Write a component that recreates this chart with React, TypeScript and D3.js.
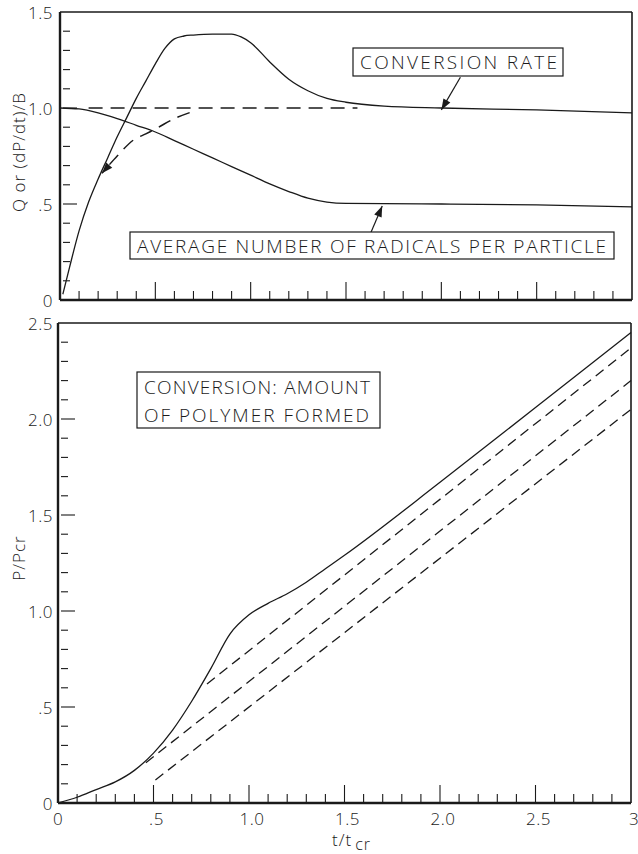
import React from "react";
import * as d3 from "d3";

// ---- Upper panel: rate and radical number vs reduced time ----
const rateT = [0.015, 0.05, 0.1, 0.15, 0.2, 0.25, 0.3, 0.35, 0.4, 0.45, 0.5, 0.55, 0.6, 0.65, 0.7, 0.8, 0.9, 0.95, 1.0, 1.1, 1.2, 1.3, 1.4, 1.5, 1.7, 2.0, 2.5, 3.0];
const rateQ = [0.03, 0.17, 0.36, 0.51, 0.63, 0.74, 0.85, 0.95, 1.05, 1.14, 1.23, 1.31, 1.36, 1.375, 1.38, 1.385, 1.385, 1.37, 1.34, 1.24, 1.15, 1.09, 1.05, 1.03, 1.01, 1.0, 0.99, 0.975];

const radT = [0, 0.1, 0.2, 0.3, 0.4, 0.5, 0.6, 0.7, 0.8, 0.9, 1.0, 1.1, 1.2, 1.3, 1.4, 1.5, 2.0, 2.5, 3.0];
const radQ = [1.0, 0.995, 0.975, 0.945, 0.91, 0.875, 0.83, 0.785, 0.74, 0.695, 0.65, 0.605, 0.565, 0.53, 0.51, 0.503, 0.5, 0.495, 0.485];

// dashed steady-state level and the dashed approach curve
const levelT = [0.15, 1.56];
const levelQ = [1.0, 1.0];
const approachT = [0.68, 0.6, 0.51, 0.45, 0.385, 0.3, 0.22];
const approachQ = [0.976, 0.945, 0.896, 0.865, 0.833, 0.75, 0.66];

// ---- Lower panel: amount of polymer formed ----
const polyT = [0, 0.1, 0.2, 0.3, 0.4, 0.5, 0.6, 0.7, 0.8, 0.9, 1.0, 1.1, 1.2, 1.3, 1.4, 1.5, 2.0, 2.5, 3.0];
const polyP = [0, 0.03, 0.07, 0.11, 0.17, 0.26, 0.38, 0.53, 0.7, 0.88, 0.98, 1.04, 1.09, 1.15, 1.22, 1.29, 1.67, 2.06, 2.45];

// asymptotic straight lines: [t0, P0, t1, P1]
const asymptotes = [
  [0.78, 0.62, 3.0, 2.37],
  [0.46, 0.21, 3.0, 2.2],
  [0.51, 0.12, 3.0, 2.05],
];

const topYTicks = [0, 0.5, 1.0, 1.5];
const topYLabels = ["0", ".5", "1.0", "1.5"];
const botYTicks = [0, 0.5, 1.0, 1.5, 2.0, 2.5];
const botYLabels = ["0", ".5", "1.0", "1.5", "2.0", "2.5"];
const xTicks = [0, 0.5, 1.0, 1.5, 2.0, 2.5, 3.0];
const xLabels = ["0", ".5", "1.0", "1.5", "2.0", "2.5", "3"];

const W = 638;
const H = 854;
const FONT = "'Open Sans', 'DejaVu Sans', sans-serif";
const INK = "#1a1a1a";

const xTop = d3.scaleLinear().domain([0, 3]).range([60, 632]);
const yTop = d3.scaleLinear().domain([0, 1.5]).range([300, 12]);
const xBot = d3.scaleLinear().domain([0, 3]).range([58, 631]);
const yBot = d3.scaleLinear().domain([0, 2.5]).range([803, 323]);

const tenths = (n: number) => d3.range(0, n + 1).map((i) => i / 10);

function arrowHead(tip: [number, number], from: [number, number], len = 11, half = 4) {
  const dx = tip[0] - from[0];
  const dy = tip[1] - from[1];
  const d = Math.hypot(dx, dy) || 1;
  const ux = dx / d, uy = dy / d;
  const bx = tip[0] - ux * len, by = tip[1] - uy * len;
  const px = -uy * half, py = ux * half;
  return `M${tip[0]},${tip[1]}L${bx + px},${by + py}L${bx - px},${by - py}Z`;
}

function Frame({ x, y, ticksY, yMax }: any) {
  const [x0, x1] = x.range();
  const [y0, y1] = y.range();
  return (
    <g stroke={INK} fill="none">
      <line x1={x0} x2={x1} y1={y1} y2={y1} strokeWidth={1.6} />
      <line x1={x1} x2={x1} y1={y1} y2={y0} strokeWidth={1.6} />
      <line x1={x0} x2={x0} y1={y1} y2={y0} strokeWidth={2.4} />
      <line x1={x0} x2={x1} y1={y0} y2={y0} strokeWidth={2.4} />
      {tenths(30).filter((v) => v > 0 && v < 3).map((v) => {
        const major = Math.abs(v * 2 - Math.round(v * 2)) < 1e-6;
        return <line key={"x" + v} x1={x(v)} x2={x(v)} y1={y0} y2={y0 - (major ? 18 : 9)} strokeWidth={1.1} />;
      })}
      {tenths(Math.round(yMax * 10)).filter((v) => v > 0 && v < yMax - 1e-6).map((v) => {
        const major = ticksY.some((t: number) => Math.abs(t - v) < 1e-6);
        return <line key={"y" + v} x1={x0 + 3} x2={x0 + (major ? 17 : 10)} y1={y(v)} y2={y(v)} strokeWidth={1.1} />;
      })}
    </g>
  );
}

function BoxLabel({ x, y, w, h, lines, lens }: any) {
  const lh = h / lines.length;
  return (
    <g>
      <rect x={x} y={y} width={w} height={h} fill="white" stroke={INK} strokeWidth={1.2} />
      {lines.map((s: string, i: number) => (
        <text
          key={s}
          x={x + 7}
          y={y + lh * i + lh / 2 + (lines.length > 1 ? 1 : 0)}
          dominantBaseline="central"
          fontFamily={FONT}
          fontWeight={300}
          fontSize={19}
          fill={INK}
          textLength={lens[i]}
          lengthAdjust="spacing"
        >
          {s}
        </text>
      ))}
    </g>
  );
}

export default function App() {
  const lineTop = d3.line<number>().curve(d3.curveMonotoneX);
  const rateD = lineTop(rateT.map((t, i) => [xTop(t), yTop(rateQ[i])]) as any);
  const radD = lineTop(radT.map((t, i) => [xTop(t), yTop(radQ[i])]) as any);
  const levelD = d3.line()(levelT.map((t, i) => [xTop(t), yTop(levelQ[i])]) as any);
  const approachPts = approachT.map((t, i) => [xTop(t), yTop(approachQ[i])] as [number, number]);
  const approachD = d3.line().curve(d3.curveCatmullRom)(approachPts);
  const polyD = d3.line<number>().curve(d3.curveMonotoneX)(polyT.map((t, i) => [xBot(t), yBot(polyP[i])]) as any);

  const n = approachPts.length;
  const appTip = approachPts[n - 1];
  const appFrom = approachPts[n - 2];

  // pointer arrows for the two upper labels
  const rateTip: [number, number] = [xTop(2.0), yTop(0.99)];
  const rateTail: [number, number] = [xTop(2.1), yTop(1.16)];
  const radTip: [number, number] = [xTop(1.69), yTop(0.49)];
  const radTail: [number, number] = [xTop(1.63), yTop(0.35)];

  const tick = { fontFamily: FONT, fontWeight: 300, fontSize: 17, fill: INK, letterSpacing: 0.5 } as any;

  return (
    <svg width={W} height={H} style={{ position: "absolute", left: 0, top: 0, background: "white" }}>
      <rect width={W} height={H} fill="white" />

      {/* upper panel */}
      <Frame x={xTop} y={yTop} ticksY={topYTicks} yMax={1.5} />
      {topYTicks.map((v, i) => (
        <text key={"ty" + v} x={53} y={yTop(v)} textAnchor="end" dominantBaseline="central" {...tick}>
          {topYLabels[i]}
        </text>
      ))}
      <text transform={`translate(18,${152}) rotate(-90)`} textAnchor="middle" dominantBaseline="central"
        fontFamily={FONT} fontWeight={300} fontSize={17} fill={INK} letterSpacing={1}>
        Q or (dP/dt)/B
      </text>

      <g fill="none" stroke={INK}>
        <path d={rateD || ""} strokeWidth={1.3} />
        <path d={radD || ""} strokeWidth={1.3} />
        <path d={levelD || ""} strokeWidth={1.5} strokeDasharray="14 8" />
        <path d={approachD || ""} strokeWidth={1.5} strokeDasharray="13 8" />
        <line x1={rateTail[0]} y1={rateTail[1]} x2={rateTip[0]} y2={rateTip[1]} strokeWidth={1.2} />
        <line x1={radTail[0]} y1={radTail[1]} x2={radTip[0]} y2={radTip[1]} strokeWidth={1.2} />
      </g>
      <path d={arrowHead(appTip, appFrom)} fill={INK} />
      <path d={arrowHead(rateTip, rateTail)} fill={INK} />
      <path d={arrowHead(radTip, radTail)} fill={INK} />

      <BoxLabel x={353} y={48} w={210} h={28} lines={["CONVERSION RATE"]} lens={[197]} />
      <BoxLabel x={130} y={232} w={484} h={27} lines={["AVERAGE NUMBER OF RADICALS PER PARTICLE"]} lens={[469]} />

      {/* lower panel */}
      <Frame x={xBot} y={yBot} ticksY={botYTicks} yMax={2.5} />
      {botYTicks.map((v, i) => (
        <text key={"by" + v} x={53} y={yBot(v)} textAnchor="end" dominantBaseline="central" {...tick}>
          {botYLabels[i]}
        </text>
      ))}
      {xTicks.map((v, i) => (
        <text key={"bx" + v} x={xBot(v) + (i === 0 ? 0 : 3)} y={818} textAnchor="middle" dominantBaseline="central" {...tick}>
          {xLabels[i]}
        </text>
      ))}
      <text x={332} y={846} fontFamily={FONT} fontWeight={300} fontSize={17} fill={INK} letterSpacing={1}>
        t/t
        <tspan dx={3} dy={4} fontSize={16}>cr</tspan>
      </text>
      <text transform={`translate(18,${558}) rotate(-90)`} textAnchor="middle" dominantBaseline="central"
        fontFamily={FONT} fontWeight={300} fontSize={17} fill={INK} letterSpacing={1}>
        P/Pcr
      </text>

      <g fill="none" stroke={INK}>
        <path d={polyD || ""} strokeWidth={1.3} />
        {asymptotes.map((a, i) => (
          <line key={"as" + i} x1={xBot(a[0])} y1={yBot(a[1])} x2={xBot(a[2])} y2={yBot(a[3])}
            strokeWidth={1.3} strokeDasharray="10 6" />
        ))}
      </g>

      <BoxLabel x={137} y={372} w={243} h={56} lines={["CONVERSION: AMOUNT", "OF POLYMER FORMED"]} lens={[226, 225]} />
    </svg>
  );
}
